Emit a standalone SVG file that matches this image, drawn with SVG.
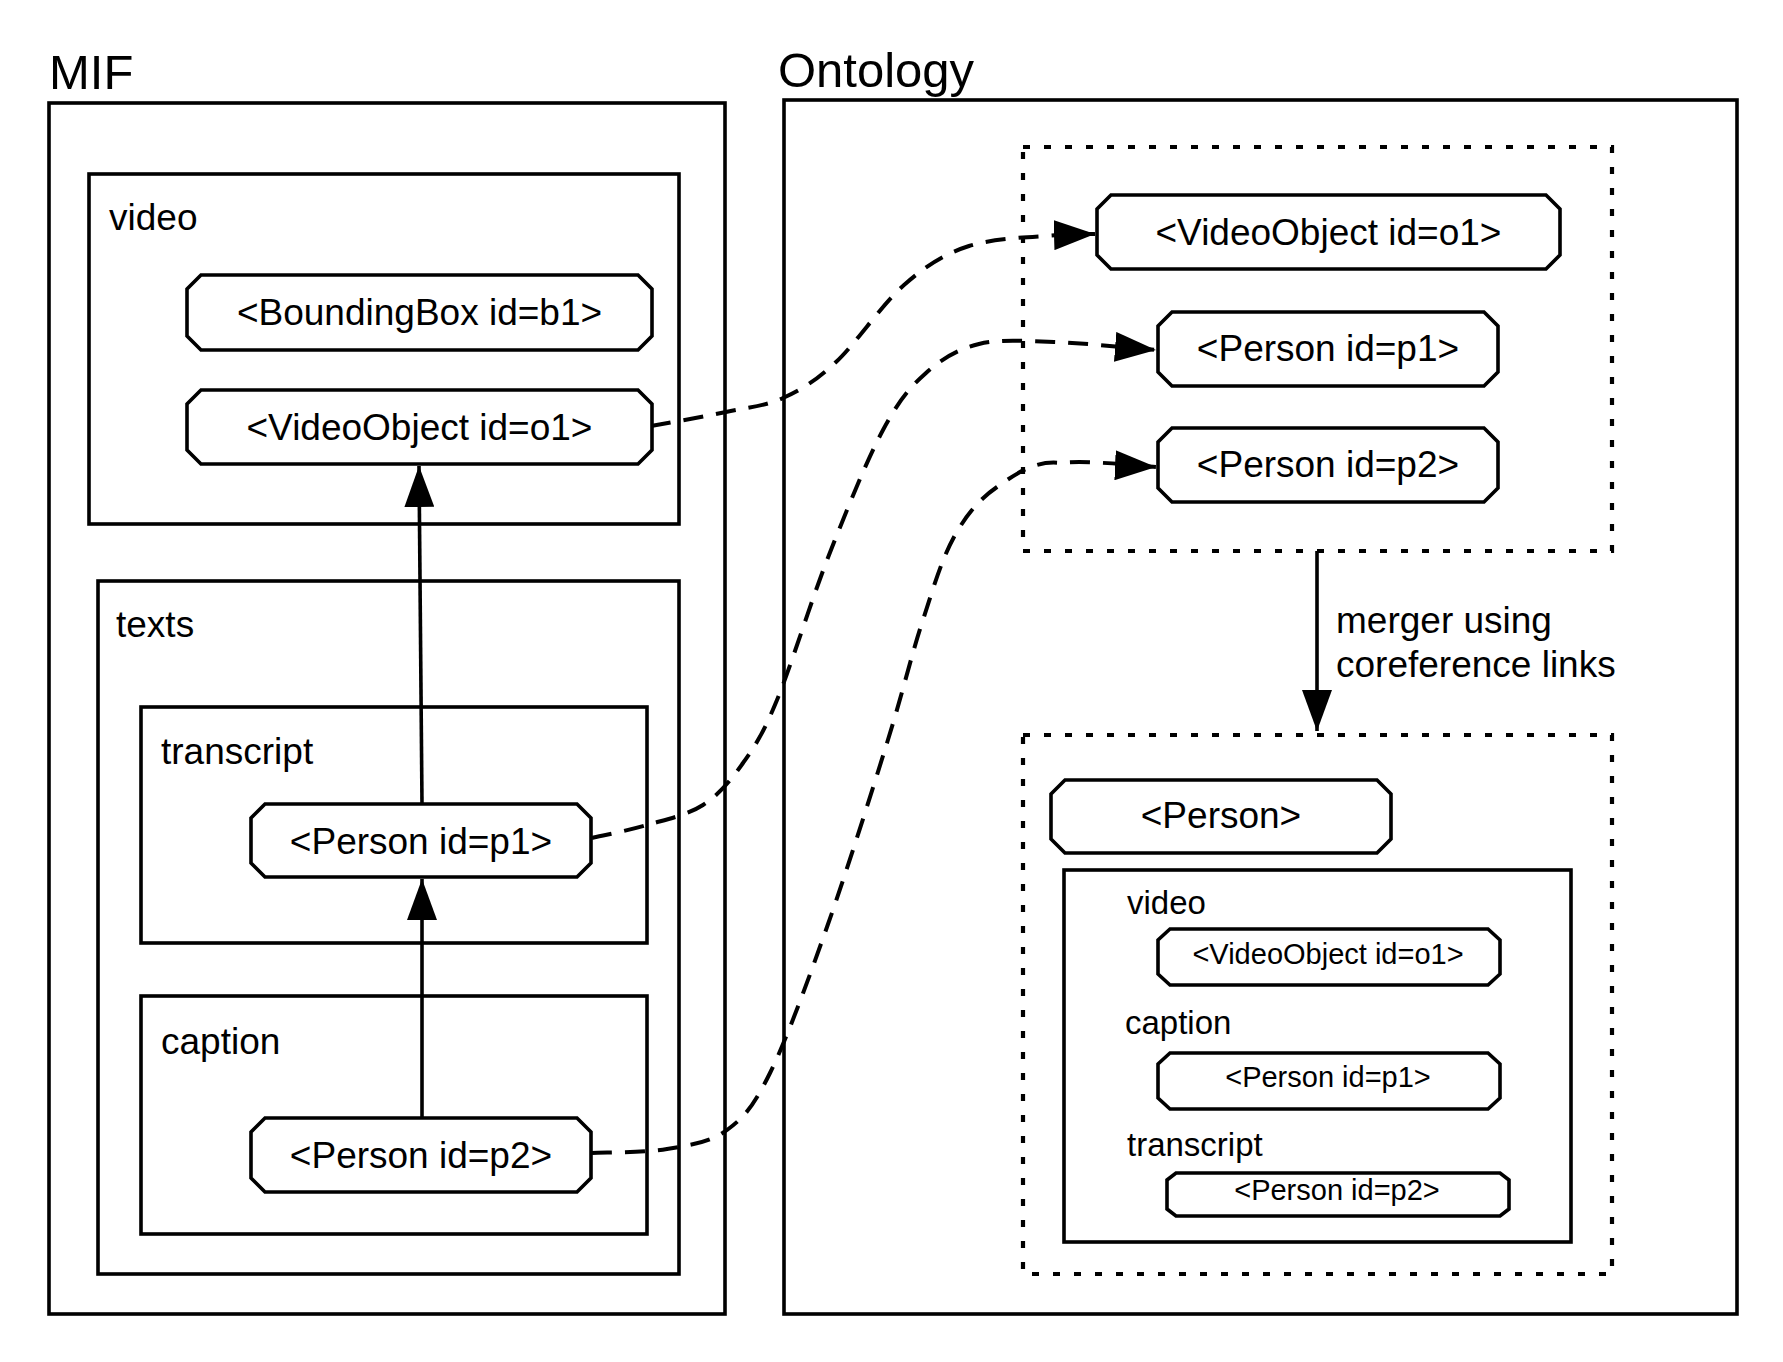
<svg xmlns="http://www.w3.org/2000/svg" width="1783" height="1362" viewBox="0 0 1783 1362">
<style>
.box{fill:none;stroke:#000;stroke-width:3.6}
.dot{fill:none;stroke:#000;stroke-width:4.2;stroke-dasharray:7 14}
.node{fill:#fff;stroke:#000;stroke-width:3.6;stroke-linejoin:miter}
.t{font-family:"Liberation Sans",Arial,Helvetica,sans-serif;fill:#000}
.title{font-size:49px}
.lbl{font-size:37px}
.lbl2{font-size:33px}
.nt{font-size:37px;text-anchor:middle}
.ns{font-size:29px;text-anchor:middle}
.solid{fill:none;stroke:#000;stroke-width:3.6}
.dash{fill:none;stroke:#000;stroke-width:4;stroke-dasharray:20 13}
</style>
<defs>
<marker id="arr" markerUnits="userSpaceOnUse" markerWidth="41" markerHeight="30" refX="41" refY="15" orient="auto" viewBox="0 0 41 30">
<path d="M0,0 L41,15 L0,30 Z" fill="#000"/>
</marker>
</defs>
<rect width="1783" height="1362" fill="#fff"/>

<g id="mif">
<text class="t title" x="49" y="89">MIF</text>
<rect class="box" x="49" y="103" width="676" height="1211"/>
</g>
<g id="mif-video">
<rect class="box" x="89" y="174" width="590" height="350"/>
<text class="t lbl" x="109" y="230">video</text>
</g>
<g id="mif-texts">
<rect class="box" x="98" y="581" width="581" height="693"/>
<text class="t lbl" x="116" y="637">texts</text>
</g>
<g id="mif-transcript">
<rect class="box" x="141" y="707" width="506" height="236"/>
<text class="t lbl" x="161" y="764">transcript</text>
</g>
<g id="mif-caption">
<rect class="box" x="141" y="996" width="506" height="238"/>
<text class="t lbl" x="161" y="1054">caption</text>
</g>

<g id="ontology">
<text class="t title" x="778" y="87">Ontology</text>
<rect class="box" x="784" y="100" width="953" height="1214"/>
</g>
<g id="ont-before">
<rect class="dot" x="1023" y="147" width="589" height="404"/>
</g>
<g id="ont-after">
<rect class="dot" x="1023" y="735" width="589" height="539"/>
</g>
<g id="merged-inner">
<rect class="box" x="1064" y="870" width="507" height="372"/>
<text class="t lbl2" x="1127" y="914">video</text>
<text class="t lbl2" x="1125" y="1034">caption</text>
<text class="t lbl2" x="1127" y="1156">transcript</text>
</g>

<g id="connectors">
<path class="solid" d="M422,804 L419,466" marker-end="url(#arr)"/>
<path class="solid" d="M422,1118 L422,879" marker-end="url(#arr)"/>
<path class="solid" d="M1317,551 L1317,731" marker-end="url(#arr)"/>
<path class="dash" d="M651,426 C663.5,423.7 704,416.7 726,412 C748,407.3 764.7,406.3 783,398 C801.3,389.7 815.8,380.8 836,362 C856.2,343.2 881.8,304.3 904,285 C926.2,265.7 943.3,254.3 969,246 C994.7,237.7 1037.2,237 1058,235 C1078.8,233 1088,234.2 1095,234" marker-end="url(#arr)"/>
<path class="dash" d="M592,838 C601.2,835.8 628.5,830.5 647,825 C665.5,819.5 687,815.3 703,805 C719,794.7 730.7,780.5 743,763 C755.3,745.5 762.7,734.7 777,700 C791.3,665.3 811.3,600 829,555 C846.7,510 866.8,460.3 883,430 C899.2,399.7 910,387.3 926,373 C942,358.7 957.7,349.2 979,344 C1000.3,338.8 1024.5,341 1054,342 C1083.5,343 1139,348.7 1156,350" marker-end="url(#arr)"/>
<path class="dash" d="M592,1153 C604.5,1152.3 644.5,1152.8 667,1149 C689.5,1145.2 709.8,1142.7 727,1130 C744.2,1117.3 753.3,1106.8 770,1073 C786.7,1039.2 807.5,982 827,927 C846.5,872 871.2,793.7 887,743 C902.8,692.3 910.8,657.3 922,623 C933.2,588.3 941.5,559.7 954,537 C966.5,514.3 979.2,499.3 997,487 C1014.8,474.7 1034.5,459.7 1061,463 C1087.5,459.7 1140.2,466.3 1156,467" marker-end="url(#arr)"/>
<text class="t lbl" x="1336" y="633">merger using</text>
<text class="t lbl" x="1336" y="677">coreference links</text>
</g>

<g id="mif-boundingbox">
<path class="node" d="M201,275 H638 L652,289 V336 L638,350 H201 L187,336 V289 Z"/>
<text class="t nt" x="419.5" y="325">&lt;BoundingBox id=b1&gt;</text>
</g>
<g id="mif-videoobject">
<path class="node" d="M201,390 H638 L652,404 V450 L638,464 H201 L187,450 V404 Z"/>
<text class="t nt" x="419.5" y="440">&lt;VideoObject id=o1&gt;</text>
</g>
<g id="mif-person-p1">
<path class="node" d="M265,804 H577 L591,818 V863 L577,877 H265 L251,863 V818 Z"/>
<text class="t nt" x="421" y="854">&lt;Person id=p1&gt;</text>
</g>
<g id="mif-person-p2">
<path class="node" d="M265,1118 H577 L591,1132 V1178 L577,1192 H265 L251,1178 V1132 Z"/>
<text class="t nt" x="421" y="1168">&lt;Person id=p2&gt;</text>
</g>
<g id="ont-videoobject">
<path class="node" d="M1111,195 H1546 L1560,209 V255 L1546,269 H1111 L1097,255 V209 Z"/>
<text class="t nt" x="1328.5" y="245">&lt;VideoObject id=o1&gt;</text>
</g>
<g id="ont-person-p1">
<path class="node" d="M1172,312 H1484 L1498,326 V372 L1484,386 H1172 L1158,372 V326 Z"/>
<text class="t nt" x="1328" y="361">&lt;Person id=p1&gt;</text>
</g>
<g id="ont-person-p2">
<path class="node" d="M1172,428 H1484 L1498,442 V488 L1484,502 H1172 L1158,488 V442 Z"/>
<text class="t nt" x="1328" y="477">&lt;Person id=p2&gt;</text>
</g>
<g id="merged-person">
<path class="node" d="M1065,780 H1377 L1391,794 V839 L1377,853 H1065 L1051,839 V794 Z"/>
<text class="t nt" x="1221" y="828">&lt;Person&gt;</text>
</g>
<g id="merged-videoobject">
<path class="node" d="M1170,929 H1488 L1500,940 V974 L1488,985 H1170 L1158,974 V940 Z"/>
<text class="t ns" x="1328" y="964">&lt;VideoObject id=o1&gt;</text>
</g>
<g id="merged-person-p1">
<path class="node" d="M1170,1053 H1488 L1500,1064 V1098 L1488,1109 H1170 L1158,1098 V1064 Z"/>
<text class="t ns" x="1328" y="1087">&lt;Person id=p1&gt;</text>
</g>
<g id="merged-person-p2">
<path class="node" d="M1176,1173 H1500 L1509,1180 V1209 L1500,1216 H1176 L1167,1209 V1180 Z"/>
<text class="t ns" x="1337" y="1200">&lt;Person id=p2&gt;</text>
</g>
</svg>
